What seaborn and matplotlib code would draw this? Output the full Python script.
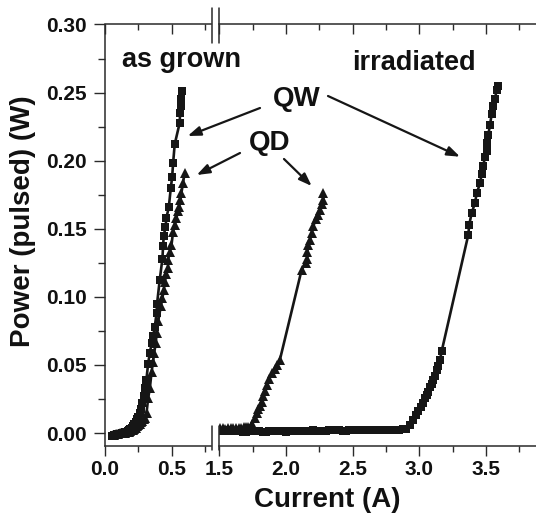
"""Pulsed L-I curves, as grown vs irradiated QW / QD lasers, on a broken current axis."""

import matplotlib

matplotlib.use("Agg")
import matplotlib.pyplot as plt
from matplotlib.lines import Line2D
from matplotlib.ticker import MultipleLocator
import seaborn as sns

# as grown, quantum well (squares)
qw_grown_current = [0.05, 0.06, 0.07, 0.08, 0.09, 0.10, 0.11, 0.12, 0.13, 0.14,
                    0.15, 0.16, 0.17, 0.18, 0.19, 0.20, 0.21, 0.22, 0.23, 0.24,
                    0.25, 0.26, 0.27, 0.28, 0.29,
                    0.30, 0.31, 0.323, 0.336, 0.349, 0.36, 0.373,
                    0.386, 0.39, 0.41, 0.43, 0.435, 0.44, 0.453, 0.46, 0.478, 0.493,
                    0.503, 0.51, 0.522, 0.56, 0.562, 0.566, 0.572, 0.58]
qw_grown_power = [-0.002, -0.002, -0.0015, -0.0015, -0.001, -0.001, -0.0005, -0.0005, 0.0, 0.0,
                  0.0005, 0.001, 0.0015, 0.002, 0.003, 0.004, 0.005, 0.0065, 0.008, 0.01,
                  0.012, 0.015, 0.018, 0.022, 0.027,
                  0.033, 0.039, 0.051, 0.059, 0.066, 0.071, 0.078,
                  0.088, 0.095, 0.1125, 0.128, 0.137, 0.145, 0.151, 0.158, 0.166, 0.18,
                  0.188, 0.198, 0.212, 0.228, 0.235, 0.24, 0.245, 0.251]

# as grown, quantum dot (triangles)
qd_grown_current = [0.06, 0.07, 0.08, 0.09, 0.10, 0.11, 0.12, 0.13, 0.14, 0.15,
                    0.16, 0.17, 0.18, 0.19, 0.20, 0.21, 0.22, 0.23, 0.24, 0.25,
                    0.26, 0.27, 0.28, 0.29, 0.30,
                    0.311, 0.323, 0.336, 0.349, 0.36, 0.368, 0.381,
                    0.386, 0.398, 0.418, 0.43, 0.44, 0.448, 0.46, 0.472, 0.472, 0.485,
                    0.498, 0.51, 0.522, 0.535, 0.547, 0.554, 0.565, 0.572, 0.584, 0.597]
qd_grown_power = [-0.0015, -0.0012, -0.001, -0.0008, -0.0005, -0.0003, 0.0, 0.0, 0.0, 0.0003,
                  0.0005, 0.0008, 0.001, 0.0015, 0.002, 0.0025, 0.003, 0.004, 0.005, 0.006,
                  0.007, 0.008, 0.009, 0.010, 0.011,
                  0.0147, 0.0255, 0.033, 0.045, 0.052, 0.059, 0.066,
                  0.0735, 0.082, 0.093, 0.099, 0.105, 0.111, 0.117, 0.121, 0.127, 0.133,
                  0.138, 0.148, 0.153, 0.158, 0.163, 0.166, 0.171, 0.176, 0.1835, 0.191]

# irradiated, quantum dot (triangles)
qd_irr_current = [1.505, 1.525, 1.545, 1.565, 1.585, 1.605, 1.625, 1.645, 1.665, 1.685,
                  1.70, 1.718, 1.743, 1.768, 1.78, 1.793, 1.805, 1.818, 1.83, 1.843,
                  1.855, 1.875, 1.893, 1.915, 1.935, 1.955, 2.118, 2.15, 2.16, 2.16,
                  2.168, 2.18, 2.193, 2.205, 2.225, 2.243, 2.255, 2.27, 2.28, 2.28]
qd_irr_power = [0.0035, 0.0035, 0.003, 0.0035, 0.004, 0.0035, 0.004, 0.004, 0.004, 0.0045,
                0.0045, 0.0046, 0.007, 0.011, 0.0145, 0.018, 0.02, 0.023, 0.027, 0.031,
                0.035, 0.04, 0.044, 0.047, 0.05, 0.054, 0.12, 0.125, 0.128, 0.133,
                0.138, 0.142, 0.147, 0.152, 0.157, 0.16, 0.164, 0.168, 0.171, 0.176]

# irradiated, quantum well (squares)
qw_irr_current = [1.500, 1.525, 1.550, 1.575, 1.600, 1.625, 1.650, 1.675, 1.700, 1.725,
                  1.750, 1.775, 1.800, 1.825, 1.850, 1.875, 1.900, 1.925, 1.950, 1.975,
                  2.000, 2.025, 2.050, 2.075, 2.100, 2.125, 2.150, 2.175, 2.200, 2.225,
                  2.250, 2.275, 2.300, 2.325, 2.350, 2.375, 2.400, 2.425, 2.450, 2.475,
                  2.500, 2.525, 2.550, 2.575, 2.600, 2.625, 2.650, 2.675, 2.700, 2.725,
                  2.750, 2.775, 2.800, 2.825, 2.850, 2.875, 2.900,
                  2.93, 2.955, 2.975, 2.993, 3.01, 3.03, 3.043, 3.056, 3.068, 3.081,
                  3.093, 3.105, 3.118, 3.13, 3.143, 3.156, 3.168,
                  3.368, 3.375, 3.393, 3.418, 3.431, 3.456, 3.468, 3.48, 3.493, 3.506,
                  3.51, 3.518, 3.531, 3.543, 3.555, 3.568, 3.58, 3.593]
qw_irr_power = [0.0015, 0.0015, 0.002, 0.0015, 0.0015, 0.0015, 0.0015, 0.001, 0.001, 0.0015,
                0.0015, 0.0015, 0.0015, 0.001, 0.001, 0.0015, 0.0015, 0.0015, 0.0015, 0.0015,
                0.001, 0.0015, 0.0015, 0.0015, 0.0015, 0.0015, 0.0015, 0.0015, 0.002, 0.0015,
                0.0015, 0.0015, 0.0015, 0.002, 0.002, 0.002, 0.002, 0.0015, 0.0015, 0.002,
                0.002, 0.002, 0.002, 0.002, 0.002, 0.0025, 0.0025, 0.002, 0.002, 0.0025,
                0.0025, 0.0025, 0.0025, 0.0025, 0.0025, 0.003, 0.003,
                0.006, 0.0095, 0.013, 0.016, 0.019, 0.022, 0.0255, 0.028, 0.030, 0.034,
                0.036, 0.039, 0.042, 0.046, 0.049, 0.054, 0.06,
                0.1456, 0.153, 0.1615, 0.169, 0.176, 0.1835, 0.19, 0.196, 0.203, 0.207,
                0.213, 0.219, 0.2265, 0.234, 0.24, 0.245, 0.252, 0.2546]

W, H = 536, 522
INK = "#161616"
AXIS = "#2a2a2a"

sns.set_style("ticks")
plt.rcParams["font.family"] = ["Liberation Sans", "DejaVu Sans"]
plt.rcParams["font.weight"] = "bold"


def fx(px):
    return px / W


def fy(py):
    return 1 - py / H


fig = plt.figure(figsize=(W / 100, H / 100), dpi=100)
bottom, top = 446, 24.5
ax_l = fig.add_axes([fx(105), fy(bottom), fx(211) - fx(105), (bottom - top) / H])
ax_r = fig.add_axes([fx(219.3), fy(bottom), 1 - fx(219.3), (bottom - top) / H], sharey=ax_l)

line_kw = dict(color=INK, lw=1.9, sort=False, estimator=None, markeredgewidth=0)
sq = dict(marker="s", markersize=5.9)
tri = dict(marker="^", markersize=7.4)
for ax in (ax_l, ax_r):
    sns.lineplot(x=qw_grown_current, y=qw_grown_power, ax=ax, **sq, **line_kw)
    sns.lineplot(x=qd_grown_current, y=qd_grown_power, ax=ax, **tri, **line_kw)
    sns.lineplot(x=qd_irr_current, y=qd_irr_power, ax=ax, **tri, **line_kw)
    sns.lineplot(x=qw_irr_current, y=qw_irr_power, ax=ax, **sq, **line_kw)

ax_l.set_xlim(0, 106 / 133.5)
ax_r.set_xlim(1.5, 1.5 + (W - 219.3) / 133.3)
ax_l.set_ylim(-0.0095, 0.30)

for ax in (ax_l, ax_r):
    ax.set_xlabel("")
    ax.set_ylabel("")
    ax.xaxis.set_major_locator(MultipleLocator(0.5))
    ax.xaxis.set_minor_locator(MultipleLocator(0.25))
    ax.tick_params(axis="x", which="both", direction="out", top=False, colors=AXIS,
                   labelcolor="#111111", labelsize=15, pad=3)
    ax.tick_params(axis="x", which="major", length=7, width=1)
    ax.tick_params(axis="x", which="minor", length=4, width=1)
    for lab in ax.get_xticklabels():
        lab.set_fontweight("bold")
    ax.spines["right"].set_visible(False)
    ax.spines["top"].set_visible(False)
    ax.spines["bottom"].set_color(AXIS)
    ax.spines["bottom"].set_linewidth(1.1)
    sec = ax.secondary_xaxis("top")
    sec.xaxis.set_major_locator(MultipleLocator(0.5))
    sec.xaxis.set_minor_locator(MultipleLocator(0.25))
    sec.tick_params(axis="x", which="both", direction="in", labeltop=False, colors=AXIS)
    sec.tick_params(axis="x", which="major", length=7, width=1)
    sec.tick_params(axis="x", which="minor", length=4, width=1)
    sec.spines["top"].set_color(AXIS)
    sec.spines["top"].set_linewidth(1.1)

ax_l.spines["left"].set_color(AXIS)
ax_l.spines["left"].set_linewidth(1.1)
ax_l.yaxis.set_major_locator(MultipleLocator(0.05))
ax_l.yaxis.set_minor_locator(MultipleLocator(0.025))
ax_l.yaxis.set_major_formatter(plt.FormatStrFormatter("%.2f"))
ax_l.tick_params(axis="y", which="both", direction="out", colors=AXIS, labelcolor="#111111",
                 labelsize=15, pad=5)
ax_l.tick_params(axis="y", which="major", length=8, width=1)
ax_l.tick_params(axis="y", which="minor", length=5, width=1)
for lab in ax_l.get_yticklabels():
    lab.set_fontweight("bold")

ax_r.spines["left"].set_visible(False)
ax_r.tick_params(axis="y", which="both", left=False, labelleft=False)

# break marks on the current axis
for xb in (212, 218.5):
    for y0, y1 in ((8, 43), (426, 450)):
        fig.add_artist(Line2D([fx(xb), fx(xb)], [fy(y0), fy(y1)], transform=fig.transFigure,
                              color=AXIS, lw=1.1))

fig.text(fx(327), fy(506.7), "Current (A)", ha="center", va="baseline", fontsize=20,
         color="#111111")
fig.text(fx(23), fy(221), "Power (pulsed) (W)", ha="center", va="center", rotation=90,
         fontsize=20, color="#111111")

fig.text(fx(121.7), fy(66.7), "as grown", ha="left", va="baseline", fontsize=19.5, color="#111111")
fig.text(fx(351.7), fy(70), "irradiated", ha="left", va="baseline", fontsize=19.5, color="#111111")
fig.text(fx(297), fy(106), "QW", ha="center", va="baseline", fontsize=20, color="#111111")
fig.text(fx(269.5), fy(150), "QD", ha="center", va="baseline", fontsize=20, color="#111111")

arrow_kw = dict(arrowstyle="-|>,head_length=0.55,head_width=0.2", color=INK, lw=1.6,
                mutation_scale=14, shrinkA=0, shrinkB=0)
arrows = [((260, 108), (187.7, 136)),
          ((328, 96), (460, 156.7)),
          ((240, 153), (196.7, 175)),
          ((284, 159), (311.7, 186))]
for (x0, y0), (x1, y1) in arrows:
    ax_r.annotate("", xy=(fx(x1), fy(y1)), xycoords="figure fraction",
                  xytext=(fx(x0), fy(y0)), textcoords="figure fraction",
                  arrowprops=arrow_kw, annotation_clip=False)

fig.savefig("out.png", dpi=100)
